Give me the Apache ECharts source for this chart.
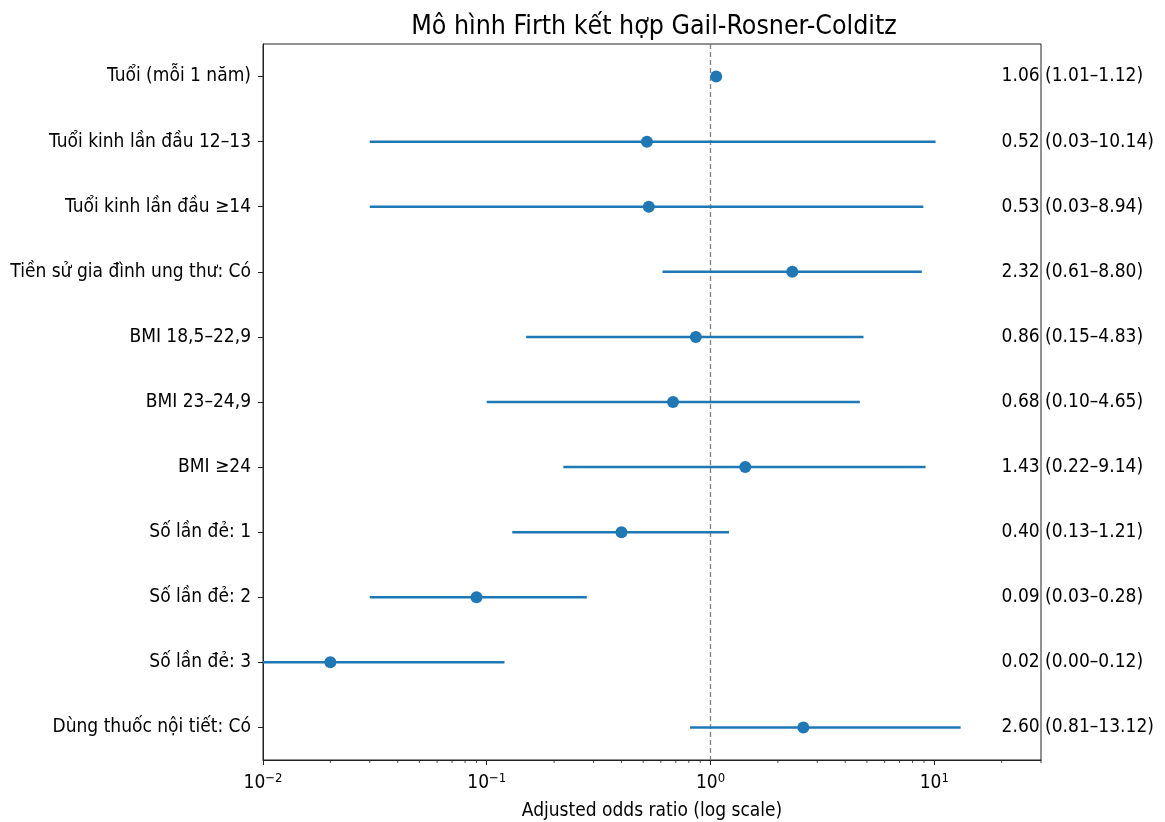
<!DOCTYPE html>
<html><head><meta charset="utf-8">
<script src="https://cdn.jsdelivr.net/npm/echarts@6/dist/echarts.min.js"></script>
<style>html,body{margin:0;padding:0;background:#fff}#c{width:1165px;height:822px}</style>
</head><body><div id="c"></div>
<script>
const categories = ["Tuổi (mỗi 1 năm)", "Tuổi kinh lần đầu 12–13", "Tuổi kinh lần đầu ≥14", "Tiền sử gia đình ung thư: Có", "BMI 18,5–22,9", "BMI 23–24,9", "BMI ≥24", "Số lần đẻ: 1", "Số lần đẻ: 2", "Số lần đẻ: 3", "Dùng thuốc nội tiết: Có"];
const oddsRatio = [1.06, 0.52, 0.53, 2.32, 0.86, 0.68, 1.43, 0.40, 0.09, 0.02, 2.60];
const ciLow = [1.01, 0.03, 0.03, 0.61, 0.15, 0.10, 0.22, 0.13, 0.03, 0.003, 0.81];
const ciHigh = [1.12, 10.14, 8.94, 8.80, 4.83, 4.65, 9.14, 1.21, 0.28, 0.12, 13.12];
const majorTicks = [0.01, 0.1, 1, 10];
const minorTicks = [0.02,0.03,0.04,0.05,0.06,0.07,0.08,0.09,0.2,0.3,0.4,0.5,0.6,0.7,0.8,0.9,2,3,4,5,6,7,8,9,20,30];
const rowTicks = categories.map((c, i) => i);

const FONT = '"DejaVu Sans Condensed", "DejaVu Sans", sans-serif';
const FS = 19;
const BLUE = '#1f77b4';
const LABEL_X = 20;
const REF_X = 1;

const chart = echarts.init(document.getElementById('c'), null, {renderer: 'canvas'});
const ciData = categories.map((c, i) => [ciLow[i], ciHigh[i], oddsRatio[i], i]);
const txtData = categories.map((c, i) => [LABEL_X, i]);
const txtLabels = categories.map((c, i) => oddsRatio[i].toFixed(2) + ' (' + ciLow[i].toFixed(2) + '–' + ciHigh[i].toFixed(2) + ')');

const option = {
  animation: false,
  title: {
    text: 'Mô hình Firth kết hợp Gail-Rosner-Colditz',
    left: 649, top: 9, textAlign: 'center',
    textStyle: {fontFamily: FONT, fontSize: 26.5, fontWeight: 'normal', color: '#000'}
  },
  grid: {left: 263, right: 124, top: 44, bottom: 62, show: true, borderColor: '#222', borderWidth: 1, containLabel: false, outerBoundsMode: 'none'},
  xAxis: {
    type: 'log', logBase: 10, min: 0.01, max: 30,
    name: 'Adjusted odds ratio (log scale)', nameLocation: 'middle', nameGap: 42,
    nameTextStyle: {fontFamily: FONT, fontSize: FS, color: '#000'},
    axisLine: {show: true, onZero: false, lineStyle: {color: '#222', width: 1}},
    axisTick: {show: true, length: 5, lineStyle: {color: '#222'}, customValues: majorTicks},
    splitLine: {show: false},
    minorTick: {show: false},
    axisLabel: {
      customValues: majorTicks, margin: 12,
      fontFamily: FONT, fontSize: FS, color: '#000',
      formatter: v => '{b|10}{s|' + String(Math.round(Math.log10(v))).replace('-', '−') + '}',
      rich: {b: {fontFamily: FONT, fontSize: FS, color: '#000'}, s: {fontFamily: FONT, fontSize: 13, color: '#000', padding: [0, 0, 10, 0]}}
    }
  },
  yAxis: {
    type: 'value', min: -0.5, max: 10.5, inverse: true,
    axisLine: {show: true, onZero: false, lineStyle: {color: '#222', width: 1}},
    axisTick: {show: true, length: 5, lineStyle: {color: '#222'}, customValues: rowTicks},
    axisLabel: {customValues: rowTicks, fontFamily: FONT, fontSize: FS, color: '#000', margin: 12,
      formatter: v => categories[Math.round(v)] || ''},
    splitLine: {show: false}
  },
  series: [
    {
      type: 'custom',
      data: ciData,
      encode: {x: [0, 1, 2], y: 3},
      renderItem: function (params, api) {
        const y = api.value(3);
        const p1 = api.coord([api.value(0), y]);
        const p2 = api.coord([api.value(1), y]);
        const pc = api.coord([api.value(2), y]);
        const cs = params.coordSys;
        const x1 = Math.max(p1[0], cs.x), x2 = Math.min(p2[0], cs.x + cs.width);
        return {
          type: 'group',
          children: [
            {type: 'line', shape: {x1: x1, y1: p1[1], x2: x2, y2: p2[1]}, style: {stroke: BLUE, lineWidth: 2.5}},
            {type: 'circle', shape: {cx: pc[0], cy: pc[1], r: 6}, style: {fill: BLUE}}
          ]
        };
      },
      z: 3
    },
    {
      type: 'custom',
      data: [[REF_X, -0.5], [REF_X, 10.5]],
      encode: {x: 0, y: 1},
      renderItem: function (params, api) {
        if (params.dataIndex > 0) return null;
        const a = api.coord([REF_X, -0.5]);
        const b = api.coord([REF_X, 10.5]);
        return {type: 'line', shape: {x1: a[0], y1: a[1], x2: b[0], y2: b[1]}, style: {stroke: '#808080', lineWidth: 1.3, lineDash: [5, 3]}};
      },
      z: 2
    },
    {
      type: 'custom',
      data: txtData,
      encode: {x: 0, y: 1},
      clip: false,
      renderItem: function (params, api) {
        const p = api.coord([api.value(0), api.value(1)]);
        return {type: 'text', x: p[0], y: p[1], style: {text: txtLabels[params.dataIndex], font: FS + 'px ' + FONT, fill: '#000', align: 'left', verticalAlign: 'middle'}};
      },
      z: 5
    },
    {
      type: 'custom',
      data: minorTicks.map(v => [v, 0]),
      encode: {x: 0, y: 1},
      clip: false,
      renderItem: function (params, api) {
        const p = api.coord([api.value(0), 0]);
        const cs = params.coordSys;
        const yb = cs.y + cs.height;
        return {type: 'line', shape: {x1: p[0], y1: yb, x2: p[0], y2: yb + 3}, style: {stroke: '#222', lineWidth: 0.8}};
      }
    }
  ]
};
chart.setOption(option);
</script>
</body></html>
